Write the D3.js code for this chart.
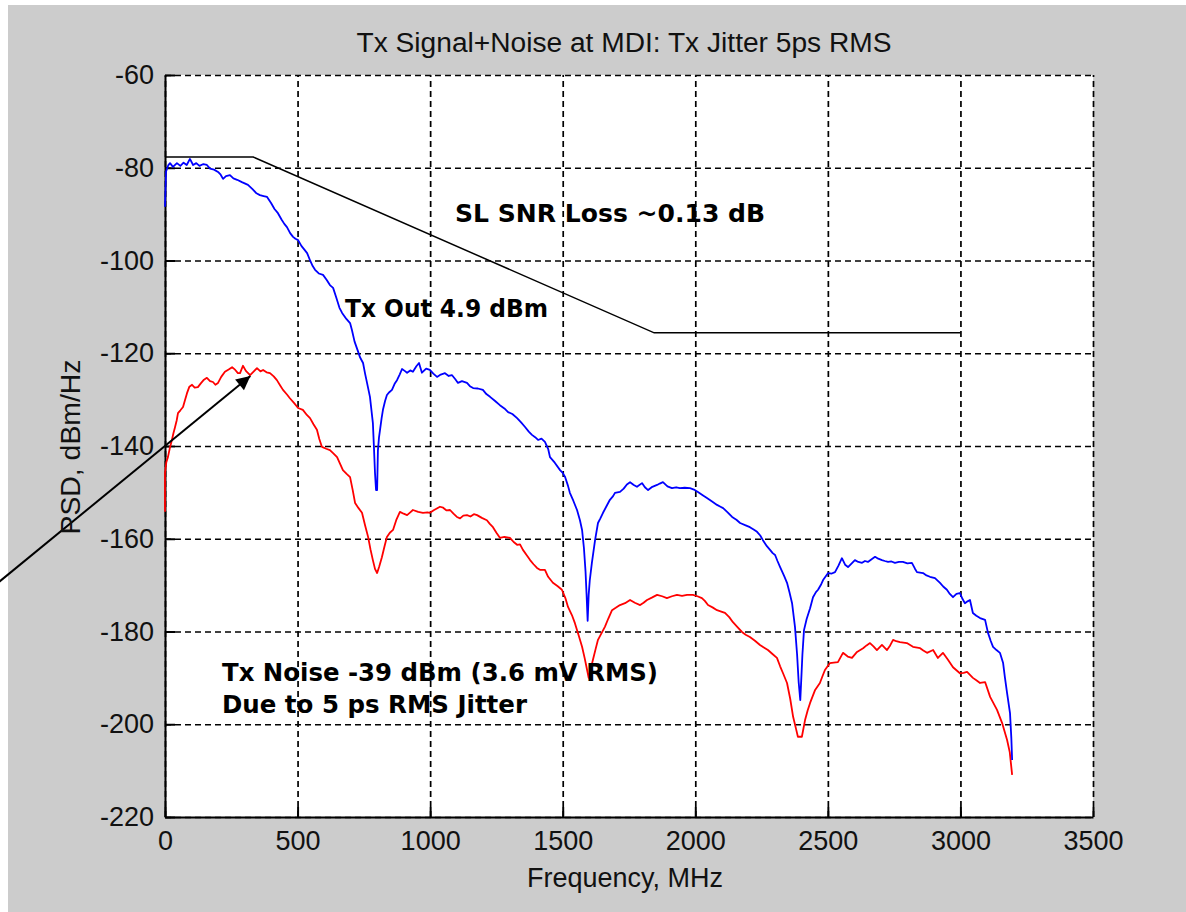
<!DOCTYPE html>
<html>
<head>
<meta charset="UTF-8">
<style>
  * { margin: 0; padding: 0; }
  html, body { width: 1186px; height: 912px; background: #fff; overflow: hidden; }
  svg { display: block; }
  .tick text { font-family: "Liberation Sans", Arial, sans-serif; font-size: 27px; fill: #111; }
  .grid line { stroke: #000; stroke-width: 1.7; stroke-dasharray: 6,4; }
  .grid .domain { display: none; }
  .axis .domain, .axis line { stroke: #000; stroke-width: 2; }
  .note { font-family: "DejaVu Sans", sans-serif; font-weight: bold; font-size: 24px; fill: #000; }
  .lbl { font-family: "Liberation Sans", Arial, sans-serif; font-size: 27px; fill: #111; }
</style>
</head>
<body>
<div id="chart"></div>
<script src="https://d3js.org/d3.v7.min.js"></script>
<script>
// --- data ---
var xTicks = [0, 500, 1000, 1500, 2000, 2500, 3000, 3500];
var xTickLabels = ["0", "500", "1000", "1500", "2000", "2500", "3000", "3500"];
var yTicks = [-60, -80, -100, -120, -140, -160, -180, -200, -220];
var yTickLabels = ["-60", "-80", "-100", "-120", "-140", "-160", "-180", "-200", "-220"];

var titleText = "Tx Signal+Noise at MDI: Tx Jitter 5ps RMS";
var xLabel = "Frequency, MHz";
var yLabel = "PSD, dBm/Hz";
var notes = ["SL SNR Loss ~0.13 dB", "Tx Out 4.9 dBm", "Tx Noise -39 dBm (3.6 mV RMS)", "Due to 5 ps RMS Jitter"];

// spectral mask (black)
var maskFreq = [0, 333, 1845, 3000];
var maskDb = [-77.7, -77.7, -115.6, -115.6];

// arrow from outside the axes to the noise peak: [MHz, dB]
var arrowFrom = [-660, -170.9];
var arrowTo = [322, -124.9];

// Tx signal PSD (blue): [MHz, dBm/Hz]
var txSignal = [[0,-88.4],[4,-80.8],[12,-79.5],[19,-79],[30,-79.8],[45,-79],[58,-79.6],[70,-78.9],[82,-79.4],[94,-78.1],[106,-79.4],[118,-79],[130,-79.6],[145,-79.2],[158,-79.4],[170,-80.2],[185,-80.4],[200,-80.9],[210,-81.5],[219,-82.4],[230,-81.8],[245,-81.6],[258,-82.3],[272,-82.6],[290,-83.1],[313,-83.7],[330,-84.6],[345,-85.5],[358,-85.9],[372,-86.1],[385,-86.3],[400,-87.6],[413,-88.9],[426,-89.8],[440,-91.2],[450,-92.1],[460,-92.8],[472,-94.1],[483,-94.9],[492,-95.3],[502,-95.6],[515,-96.9],[525,-97.6],[536,-98.4],[548,-100.1],[557,-101.2],[566,-102],[580,-102.8],[596,-103.1],[610,-104.2],[622,-105.3],[634,-105.9],[645,-107.8],[658,-110.2],[668,-111.3],[684,-112.6],[698,-113.5],[705,-115],[715,-117.5],[728,-119.6],[735,-120.8],[747,-122.1],[755,-124.5],[762,-126.4],[773,-129.4],[784,-135],[788,-140.2],[792,-145.8],[796,-149.5],[800,-149.5],[803,-141],[807,-138.2],[811,-136.5],[817,-134],[822,-132.2],[830,-130.3],[837,-129],[846,-128.4],[856,-127.9],[866,-126.6],[875,-125.8],[885,-124.6],[894,-123.4],[904,-123.8],[913,-124.2],[925,-123.7],[935,-124],[948,-122.8],[958,-122.1],[969,-124.2],[985,-123.3],[999,-123.6],[1012,-124.4],[1026,-125.1],[1040,-124.6],[1056,-124.3],[1070,-124.9],[1082,-124.7],[1095,-125.6],[1105,-126.4],[1120,-126],[1139,-126.4],[1150,-127.1],[1162,-127.5],[1180,-127.6],[1199,-127.9],[1212,-128.8],[1226,-129.4],[1245,-130.3],[1263,-131.2],[1280,-131.9],[1294,-132.7],[1310,-133.1],[1328,-134],[1343,-134.9],[1358,-135.9],[1372,-136.9],[1384,-137.6],[1396,-138.1],[1407,-138.7],[1420,-138.4],[1433,-139.1],[1445,-140.6],[1452,-142.4],[1470,-143.6],[1490,-145.2],[1500,-145.8],[1509,-146.7],[1520,-148.6],[1527,-150.1],[1540,-151.8],[1554,-153.8],[1565,-156],[1573,-158.1],[1580,-162],[1586,-167],[1590,-172],[1594,-177.7],[1598,-172],[1602,-169],[1610,-165.2],[1622,-160.3],[1633,-156.6],[1642,-155.6],[1652,-154.4],[1665,-153],[1678,-151.6],[1690,-150.8],[1697,-150.1],[1716,-149.9],[1730,-149.2],[1742,-148.3],[1754,-147.8],[1768,-148.4],[1780,-148.8],[1799,-148],[1810,-148.9],[1822,-149.5],[1838,-148.8],[1856,-148.4],[1866,-148.1],[1878,-147.8],[1895,-148.7],[1912,-149.1],[1928,-148.9],[1942,-149.1],[1960,-149],[1980,-149.1],[1995,-149.4],[2010,-149.9],[2028,-150.6],[2044,-151.2],[2062,-151.9],[2082,-152.7],[2095,-153.1],[2105,-153.4],[2122,-154.3],[2139,-155.3],[2155,-155.9],[2169,-156.6],[2190,-157.1],[2206,-157.5],[2220,-158],[2233,-158.5],[2245,-159.3],[2255,-160.3],[2270,-161.6],[2282,-162.4],[2292,-163.1],[2301,-163.5],[2310,-164.8],[2320,-166.1],[2335,-168],[2346,-169.5],[2355,-171.5],[2365,-173.9],[2376,-179],[2384,-185],[2390,-191],[2396,-194.8],[2400,-190],[2404,-185],[2410,-179.7],[2420,-177.3],[2433,-175],[2444,-172.6],[2455,-171.5],[2463,-171],[2475,-169.8],[2482,-168.9],[2501,-167.4],[2515,-167.5],[2527,-167.2],[2540,-165.8],[2553,-164.2],[2565,-165.6],[2576,-166.1],[2590,-165.3],[2602,-164.6],[2615,-165],[2629,-165.2],[2640,-164.8],[2651,-165],[2665,-164.4],[2678,-163.9],[2690,-164.3],[2704,-164.6],[2715,-164.8],[2727,-165],[2740,-164.9],[2753,-165.2],[2768,-165],[2783,-165],[2800,-165.3],[2817,-165.2],[2828,-166.4],[2836,-167.2],[2859,-167.4],[2872,-167.9],[2885,-168.2],[2904,-168.5],[2923,-169.5],[2935,-170.3],[2949,-171],[2960,-171.9],[2972,-172.6],[2985,-171.9],[2998,-171.7],[3008,-173],[3017,-173.9],[3027,-173.5],[3036,-173.2],[3047,-176],[3060,-176.6],[3074,-177.1],[3093,-177.5],[3104,-180.3],[3114,-182],[3123,-183.3],[3136,-184],[3149,-184.6],[3161,-186.8],[3168,-190],[3176,-193.3],[3187,-197.6],[3192,-203],[3195,-207.7]];

// Tx jitter noise PSD (red): [MHz, dBm/Hz]
var txNoise = [[0,-154.2],[0,-145.8],[5,-143.5],[11,-142.4],[18,-140.5],[26,-138.7],[32,-137.2],[38,-135.9],[44,-134.5],[49,-132.9],[58,-132.3],[68,-131.6],[75,-130.2],[83,-128.6],[92,-127.2],[102,-126.8],[112,-127.4],[124,-127.3],[135,-126.5],[147,-125.7],[158,-125.3],[170,-126],[181,-126.2],[190,-126.8],[200,-126.4],[212,-125.1],[226,-124],[240,-123.5],[253,-123],[265,-123.6],[275,-124.3],[283,-124.3],[294,-122.7],[305,-123.8],[321,-124.7],[335,-123.9],[347,-123.2],[360,-123.9],[370,-123.6],[383,-124.1],[396,-124.3],[410,-125],[422,-125.8],[435,-127],[445,-127.9],[460,-128.9],[471,-129.7],[488,-130.8],[502,-131.8],[520,-132.2],[535,-133.3],[547,-134],[560,-135.3],[573,-136.5],[582,-138.5],[592,-140.2],[608,-140.6],[622,-140.9],[635,-141.6],[649,-142.4],[660,-143.8],[671,-145.2],[685,-146],[698,-146.7],[708,-149.5],[717,-152.3],[730,-153.4],[743,-154.4],[755,-157.2],[766,-159.6],[775,-162.3],[784,-164.6],[792,-166.5],[800,-167.4],[808,-166],[818,-164],[828,-161.6],[837,-159.6],[848,-158.7],[860,-158.1],[872,-156],[886,-154.2],[900,-154.6],[913,-154.9],[925,-154.3],[935,-153.8],[955,-154.2],[973,-154.4],[990,-154.3],[999,-154.4],[1015,-153.8],[1037,-153.1],[1049,-153.3],[1062,-153.9],[1075,-153.8],[1088,-154.6],[1101,-155.3],[1113,-155.6],[1125,-155],[1139,-154.9],[1152,-155.2],[1165,-154.7],[1177,-154.9],[1195,-155.5],[1214,-156],[1225,-156.8],[1237,-157.5],[1250,-158.7],[1263,-159.8],[1280,-159.6],[1301,-159.8],[1315,-160.7],[1328,-161.3],[1339,-161.2],[1350,-162.4],[1365,-163.6],[1377,-164.6],[1390,-165.5],[1403,-166.3],[1414,-166.7],[1433,-166.7],[1445,-168.2],[1463,-169.5],[1480,-170.2],[1497,-171],[1510,-172.8],[1520,-174.7],[1535,-176.5],[1546,-178.2],[1560,-180.8],[1573,-183.3],[1583,-185.8],[1592,-188.3],[1598,-190],[1606,-188],[1614,-186.1],[1624,-183.8],[1633,-181.8],[1645,-180.5],[1659,-179],[1672,-177.2],[1686,-175.4],[1700,-174.9],[1716,-174.3],[1735,-173.9],[1754,-173.2],[1772,-173.8],[1792,-174.3],[1805,-173.8],[1818,-173.2],[1836,-172.7],[1856,-172.1],[1875,-172.4],[1893,-172.8],[1912,-172.4],[1931,-172.1],[1950,-172.3],[1969,-172.1],[1991,-172.1],[2008,-172.4],[2025,-172.8],[2036,-173.4],[2048,-174.3],[2065,-174.8],[2082,-175.4],[2098,-175.7],[2112,-176],[2128,-176.9],[2142,-178],[2160,-179.1],[2176,-180.1],[2190,-180.7],[2206,-181.2],[2225,-182],[2244,-182.9],[2260,-183.5],[2274,-184],[2290,-184.8],[2308,-185.7],[2320,-187.5],[2331,-189],[2346,-191.1],[2358,-194.5],[2369,-198.4],[2380,-201],[2387,-202.7],[2402,-202.7],[2414,-199.1],[2424,-197],[2433,-195.4],[2452,-192.6],[2470,-191.1],[2480,-189.6],[2489,-188.3],[2508,-186.8],[2522,-186.7],[2538,-186.6],[2557,-184.6],[2575,-185.4],[2591,-185.7],[2610,-184.4],[2633,-183.6],[2646,-183],[2659,-182.5],[2672,-183.2],[2685,-184],[2704,-182.9],[2723,-184],[2735,-183],[2746,-181.8],[2758,-182.1],[2772,-182.3],[2785,-182.4],[2798,-182.5],[2821,-183.3],[2848,-183.6],[2860,-184.1],[2874,-184.6],[2897,-184],[2915,-185.7],[2934,-184.6],[2953,-186.1],[2972,-187.7],[2998,-189],[3012,-188.9],[3025,-188.7],[3047,-190],[3060,-190.5],[3074,-191.1],[3093,-190.9],[3112,-194.1],[3125,-195.5],[3138,-196.9],[3157,-199.7],[3176,-203.4],[3186,-206],[3195,-210.9]];

// --- layout ---
var W = 1186, H = 912;
var L = 165, R = 1093, T = 75, B = 817;

var svg = d3.select("#chart").append("svg").attr("width", W).attr("height", H);

// figure background (grey window, thin white strip at top/left)
svg.append("rect").attr("width", W).attr("height", H).attr("fill", "#fff");
svg.append("rect").attr("x", 8).attr("y", 5).attr("width", W - 8).attr("height", H - 5).attr("fill", "#cccccc");
svg.append("rect").attr("x", L).attr("y", T).attr("width", R - L).attr("height", B - T).attr("fill", "#fff");

var x = d3.scaleLinear().domain([0, 3500]).range([L, R]);
var y = d3.scaleLinear().domain([-220, -60]).range([B, T]);

// grid
svg.append("g").attr("class", "grid").attr("transform", "translate(0," + B + ")")
  .call(d3.axisBottom(x).tickValues(xTicks).tickSize(-(B - T)).tickFormat(""));
svg.append("g").attr("class", "grid").attr("transform", "translate(" + L + ",0)")
  .call(d3.axisLeft(y).tickValues(yTicks).tickSize(-(R - L)).tickFormat(""));

// axes with inward ticks
svg.append("g").attr("class", "axis").attr("transform", "translate(0," + B + ")")
  .call(d3.axisBottom(x).tickValues(xTicks).tickSizeInner(-10).tickSizeOuter(0).tickPadding(14)
    .tickFormat(function(d, i) { return xTickLabels[i]; }));
svg.append("g").attr("class", "axis").attr("transform", "translate(" + L + ",0)")
  .call(d3.axisLeft(y).tickValues(yTicks).tickSizeInner(-10).tickSizeOuter(0).tickPadding(11)
    .tickFormat(function(d, i) { return yTickLabels[i]; }));

// curves
var line = d3.line().x(function(d) { return x(d[0]); }).y(function(d) { return y(d[1]); });

svg.append("path").datum(txNoise).attr("d", line)
  .attr("fill", "none").attr("stroke", "#ff0000").attr("stroke-width", 1.8).attr("stroke-linejoin", "round");
svg.append("path").datum(txSignal).attr("d", line)
  .attr("fill", "none").attr("stroke", "#0000ff").attr("stroke-width", 1.8).attr("stroke-linejoin", "round");
svg.append("path").datum(d3.zip(maskFreq, maskDb)).attr("d", line)
  .attr("fill", "none").attr("stroke", "#000").attr("stroke-width", 1.5);

// annotation text
var noteSpots = [[1094, -91.7, 310], [679, -112.2, 203], [215, -190.7, 436], [215, -197.6, 305]];
notes.forEach(function(t, i) {
  svg.append("text").attr("class", "note")
    .attr("x", x(noteSpots[i][0])).attr("y", y(noteSpots[i][1]))
    .attr("textLength", noteSpots[i][2]).attr("lengthAdjust", "spacingAndGlyphs")
    .text(t);
});

// arrow
svg.append("defs").append("marker")
  .attr("id", "head").attr("viewBox", "0 0 10 10").attr("refX", 10).attr("refY", 5)
  .attr("markerWidth", 20).attr("markerHeight", 14).attr("markerUnits", "userSpaceOnUse")
  .attr("orient", "auto")
  .append("path").attr("d", "M0,0 L10,5 L0,10 Z").attr("fill", "#000");
svg.append("line")
  .attr("x1", x(arrowFrom[0])).attr("y1", y(arrowFrom[1]))
  .attr("x2", x(arrowTo[0])).attr("y2", y(arrowTo[1]))
  .attr("stroke", "#000").attr("stroke-width", 2)
  .attr("marker-end", "url(#head)");

// titles
svg.append("text").attr("class", "lbl").attr("x", 624).attr("y", 52)
  .attr("text-anchor", "middle").attr("textLength", 535).attr("lengthAdjust", "spacingAndGlyphs")
  .text(titleText);
svg.append("text").attr("class", "lbl").attr("x", 625).attr("y", 887)
  .attr("text-anchor", "middle").text(xLabel);
svg.append("text").attr("class", "lbl")
  .attr("transform", "translate(80,447) rotate(-90)")
  .attr("text-anchor", "middle").attr("textLength", 175).attr("lengthAdjust", "spacingAndGlyphs")
  .text(yLabel);
</script>
</body>
</html>
